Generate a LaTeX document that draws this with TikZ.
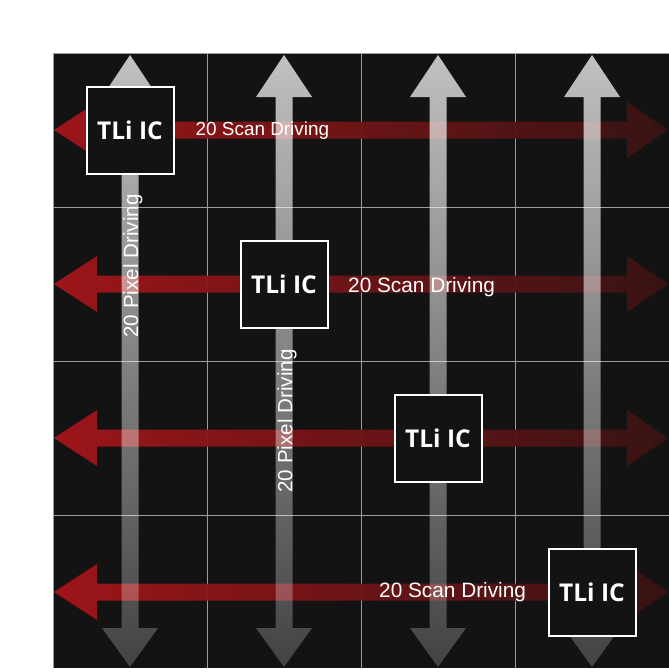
\documentclass[tikz,border=0pt]{standalone}
\usepackage{fontspec}
\setmainfont{Open Sans}
\newfontfamily\labelfont{Liberation Sans}
\usetikzlibrary{calc}
\definecolor{panelbg}{HTML}{131313}
\definecolor{gridc}{HTML}{9C9C9C}
\definecolor{redL}{HTML}{A5161A}
\definecolor{redR}{HTML}{3A1414}
\definecolor{grayT}{HTML}{BBBBBB}
\definecolor{grayB}{HTML}{333333}
\tikzset{
  icbox/.style={draw=white, line width=2pt, fill=panelbg, minimum width=87pt, minimum height=87pt, inner sep=0pt, text=white, font=\fontsize{24.5}{24}\selectfont\bfseries},
  scanlbl/.style={text=white, font=\labelfont\fontsize{20.8}{20}\selectfont, inner sep=0pt, anchor=base west},
  smalllbl/.style={scanlbl, font=\labelfont\fontsize{18.9}{18}\selectfont},
  pixlbl/.style={text=white, font=\labelfont\fontsize{20.6}{20}\selectfont, inner sep=0pt, anchor=base, rotate=90},
  gridline/.style={draw=gridc, line width=1pt}
}
\begin{document}
\begin{tikzpicture}[x=1pt,y=-1pt]
\useasboundingbox (0,0) rectangle (669,672);
% panel
\fill[panelbg] (53,53) rectangle (669,668);
% grid
\foreach \g in {207,361,515}{
  \draw[gridline] (\g,53) -- (\g,668);
  \draw[gridline] (53,\g) -- (669,\g);
}
\draw[gridline] (53,668) -- (53,53) -- (669,53);
% red horizontal arrows
\foreach \c in {130,284,438,592}{
  \shade[left color=redL, right color=redR, opacity=0.95]
    (54,\c) -- (97,\c-28) -- (97,\c-8.5) -- (627,\c-8.5) -- (627,\c-28) -- (668,\c)
    -- (627,\c+28) -- (627,\c+8.5) -- (97,\c+8.5) -- (97,\c+28) -- cycle;
}
% gray vertical arrows
\foreach \c in {130,284,438,592}{
  \shade[top color=grayT, bottom color=grayB, blend mode=screen]
    (\c,55) -- (\c+28,97) -- (\c+8.5,97) -- (\c+8.5,628) -- (\c+28,628) -- (\c,667)
    -- (\c-28,628) -- (\c-8.5,628) -- (\c-8.5,97) -- (\c-28,97) -- cycle;
}
% IC boxes
\node[icbox] (ic1) at (130,130) {TLi IC};
\node[icbox] (ic2) at (284,284) {TLi IC};
\node[icbox] (ic3) at (438,438) {TLi IC};
\node[icbox] (ic4) at (592,592) {TLi IC};
% labels
\node[smalllbl] (s1) at (195.5,135) {20 Scan Driving};
\node[scanlbl] (s2) at (348,292.7) {20 Scan Driving};
\node[scanlbl] (s4) at (379,597.7) {20 Scan Driving};
\node[pixlbl] (p1) at (138,266) {20 Pixel Driving};
\node[pixlbl] (p2) at (292.3,421) {20 Pixel Driving};
\end{tikzpicture}
\end{document}
